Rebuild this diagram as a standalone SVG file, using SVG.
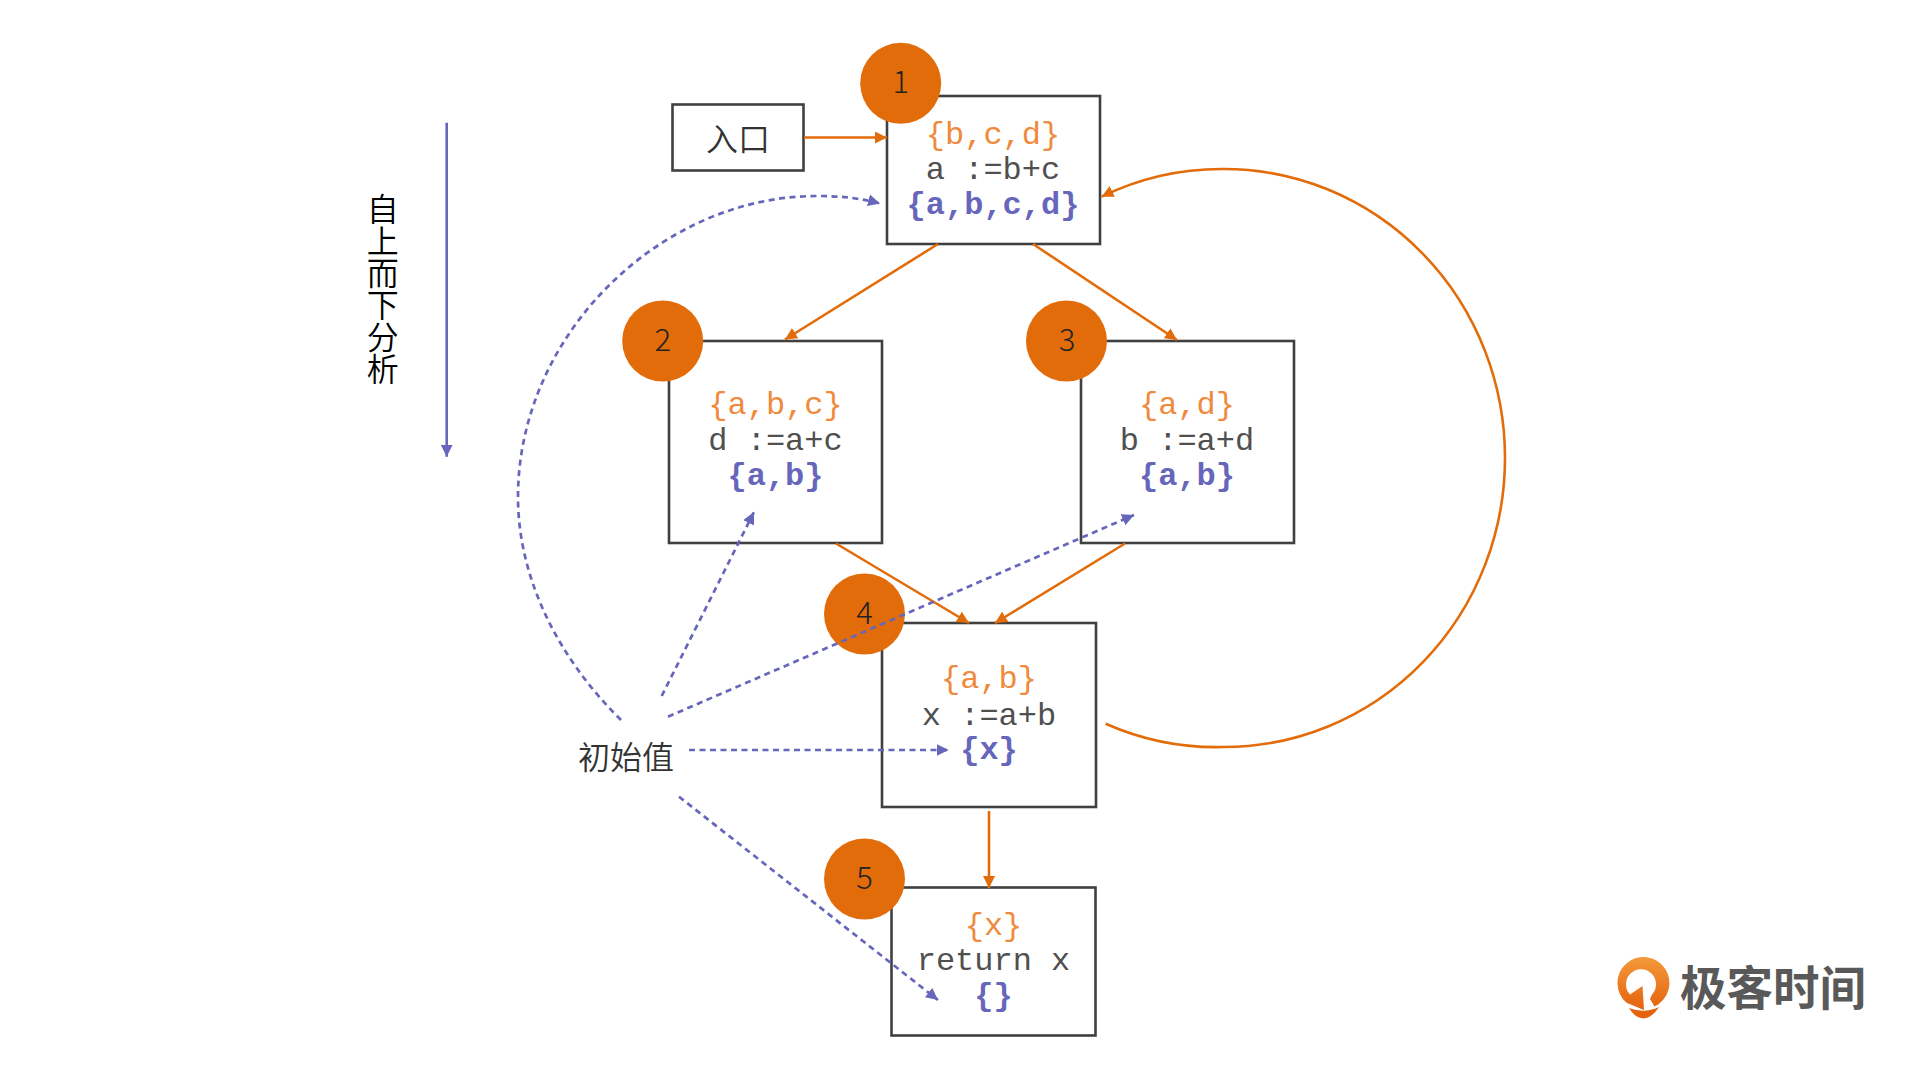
<svg xmlns="http://www.w3.org/2000/svg" width="1920" height="1080" viewBox="0 0 1920 1080">
<style>
text{font-family:"Liberation Mono","Noto Sans CJK SC",monospace}
.box{fill:#fff;stroke:#404040;stroke-width:2.6}
.c{fill:#E36C0A}
.num{font-family:"Noto Sans CJK SC","Noto Sans",sans-serif;font-weight:300;font-size:31px;fill:#222;text-anchor:middle}
.in{font-size:32px;fill:#F08A3C;text-anchor:middle}
.code{font-size:32px;fill:#505050;text-anchor:middle}
.out{font-size:32px;font-weight:bold;fill:#6666BB;text-anchor:middle}
.cn{font-family:"Noto Sans CJK SC",sans-serif;font-weight:350;font-size:32px;fill:#333;text-anchor:middle}
.or{fill:none;stroke:#E36C0A;stroke-width:2.6;marker-end:url(#ao)}
.pu{fill:none;stroke:#6666BB;stroke-width:2.7;stroke-dasharray:6 4.5;marker-end:url(#ap)}
</style>
<defs>
<marker id="ao" viewBox="0 0 10 10" refX="10" refY="5" markerUnits="userSpaceOnUse" markerWidth="12" markerHeight="12" orient="auto"><path d="M0 0L10 5L0 10Z" fill="#E36C0A"/></marker>
<marker id="ap" viewBox="0 0 10 10" refX="10" refY="5" markerUnits="userSpaceOnUse" markerWidth="12" markerHeight="12" orient="auto"><path d="M0 0L10 5L0 10Z" fill="#6666BB"/></marker>
<linearGradient id="lg" x1="0" y1="0" x2="0" y2="1"><stop offset="0" stop-color="#F39A3A"/><stop offset="1" stop-color="#E5620F"/></linearGradient>
</defs>
<g id="boxes">
<g id="entry"><rect class="box" x="672.500" y="104.500" width="131" height="66"/><text class="cn" x="738" y="151">入口</text></g>
<g id="n1"><rect class="box" x="887" y="96" width="213" height="148"/><text class="in" x="993" y="144">{b,c,d}</text><text class="code" x="993" y="179">a :=b+c</text><text class="out" x="993" y="214">{a,b,c,d}</text></g>
<g id="n2"><rect class="box" x="669" y="341" width="213" height="202"/><text class="in" x="775.500" y="414">{a,b,c}</text><text class="code" x="775.500" y="450">d :=a+c</text><text class="out" x="775.500" y="485">{a,b}</text></g>
<g id="n3"><rect class="box" x="1081" y="341" width="213" height="202"/><text class="in" x="1187" y="414">{a,d}</text><text class="code" x="1187" y="450">b :=a+d</text><text class="out" x="1187" y="485">{a,b}</text></g>
<g id="n4"><rect class="box" x="882" y="623" width="214" height="184"/><text class="in" x="989" y="688">{a,b}</text><text class="code" x="989" y="725">x :=a+b</text><text class="out" x="989" y="759">{x}</text></g>
<g id="n5"><rect class="box" x="891.500" y="887.500" width="204" height="148"/><text class="in" x="993.500" y="935">{x}</text><text class="code" x="993.500" y="970">return x</text><text class="out" x="993.500" y="1005">{}</text></g>
</g>
<g id="connectors">
<path class="or" d="M804 137.500H887"/>
<path class="or" d="M938 244L785 339.500"/>
<path class="or" d="M1033 244L1177 340"/>
<path class="or" d="M836 543.500L969 623"/>
<path class="or" d="M1125 543.500L995 623"/>
<path class="or" d="M989 811V888"/>
<path class="or" d="M1105.700 723.700A281 289 0 0 0 1224 747A281 289 0 0 0 1505 458A281 289 0 0 0 1224 169A281 289 0 0 0 1101.500 196.700"/>
<path d="M446.700 122.700V456.700" fill="none" stroke="#6666BB" stroke-width="2.6" marker-end="url(#ap)"/>
</g>
<g id="badges">
<g id="b1"><circle class="c" cx="900.700" cy="83.300" r="40.500"/></g>
<g id="b2"><circle class="c" cx="662.700" cy="341" r="40.500"/></g>
<g id="b3"><circle class="c" cx="1066.500" cy="341" r="40.500"/></g>
<g id="b4"><circle class="c" cx="864.500" cy="614" r="40.500"/></g>
<g id="b5"><circle class="c" cx="864.500" cy="879" r="40.500"/></g>
</g>
<g id="dashed">
<path class="pu" d="M621 720C560 660 518 580 518 497C518 335 660 196 817 196C840 196 860 198 880 203.500"/>
<path class="pu" d="M661.700 696L754 512"/>
<path class="pu" d="M668 716.700L1134 515"/>
<path class="pu" d="M689 750H948.700"/>
<path class="pu" d="M679 796.700L938 1000"/>
</g>
<g id="numbers">
<text class="num" x="900.700" y="93">1</text><text class="num" x="662.700" y="350.500">2</text><text class="num" x="1067" y="350.500">3</text><text class="num" x="864.500" y="623.500">4</text><text class="num" x="864.500" y="888.500">5</text>
</g>
<g id="labels">
<text class="cn" x="626" y="769">初始值</text>
<text x="382.700" y="193" style="font-family:'Noto Sans CJK SC',sans-serif;font-weight:350;font-size:32px;fill:#000;writing-mode:vertical-rl;text-orientation:upright">自上而下分析</text>
</g>
<g id="logo">
<path fill="url(#lg)" d="M1654.500 1006.500A26 26 0 1 0 1626.500 1002.700L1644 1010L1642.500 986L1630 994.500A15 15 0 1 1 1652 994.500L1650 999Z"/>
<path fill="#E5620F" d="M1629 1008Q1644 1014 1659 1007Q1652 1018 1643.500 1018.500Q1635 1018 1629 1008Z"/>
<text x="1680" y="1005" style="font-family:'Noto Sans CJK SC',sans-serif;font-weight:700;font-size:46.500px;fill:#595959">极客时间</text>
</g>
</svg>
